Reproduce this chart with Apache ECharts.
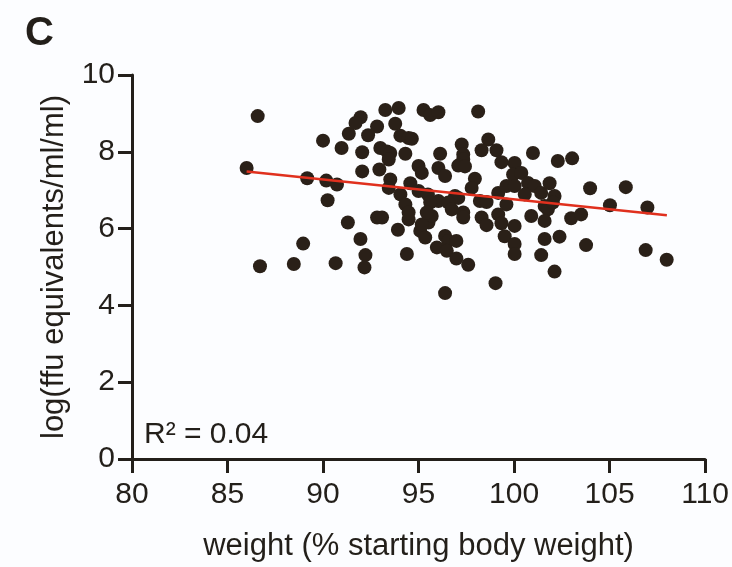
<!DOCTYPE html>
<html>
<head>
<meta charset="utf-8">
<script src="https://cdn.jsdelivr.net/npm/echarts@6/dist/echarts.min.js"></script>
<style>
  html, body { margin: 0; padding: 0; background: #fcfdff; }
  #chart { width: 732px; height: 567px; }
</style>
</head>
<body>
<div id="chart"></div>
<script>
var weight = [
  86.58, 86.0, 89.17, 90.0, 90.97, 90.17, 90.73, 90.24, 91.3, 91.35, 88.96, 86.7, 88.47, 90.66,
  93.26, 93.96, 95.26, 95.61, 96.04, 98.12, 91.97, 91.70, 92.83, 93.78, 92.36, 94.05, 94.48, 94.65,
  92.05, 93.00, 93.35, 93.52, 94.31, 93.44, 96.13, 97.26, 97.34, 97.34, 98.65, 98.30, 99.08, 100.99,
  99.34, 100.03, 102.29, 103.04, 92.05, 92.95, 95.00, 95.17, 96.04, 96.39, 97.08, 97.43, 99.95, 100.38,
  93.52, 93.44, 94.57, 95.00, 95.49, 94.05, 97.95, 97.78, 99.17, 99.60, 100.03, 100.73, 101.08, 101.42,
  101.86, 102.12, 100.56, 96.91, 97.08, 96.04, 95.61, 96.56, 98.21, 98.56, 101.60, 101.77, 94.31, 99.60,
  102.03,
  92.83, 93.09, 91.96, 92.22, 92.17, 94.39, 93.92, 94.48, 94.48, 95.09, 95.35, 95.52, 95.69, 95.17,
  95.43, 95.96, 96.39, 96.56, 96.98, 96.48, 96.98, 97.60, 96.39, 96.74, 97.34, 97.34, 98.30, 98.56,
  99.17, 99.34, 100.03, 99.51, 100.03, 100.03, 100.90, 101.60, 101.60, 102.38, 101.42, 102.12, 99.03, 102.99,
  103.98, 105.85, 105.02, 106.98, 103.51, 103.77, 106.89, 107.99
];
var logFfu = [
  8.93, 7.58, 7.31, 8.29, 8.10, 7.25, 7.15, 6.74, 6.16, 8.47, 5.61, 5.02, 5.08, 5.10,
  9.09, 9.14, 9.09, 8.96, 9.03, 9.05, 8.90, 8.75, 8.66, 8.73, 8.43, 8.42, 8.36, 8.34,
  7.99, 8.10, 8.01, 7.97, 7.95, 7.80, 7.95, 8.19, 7.93, 7.80, 8.32, 8.04, 8.04, 7.97,
  7.73, 7.71, 7.76, 7.83, 7.49, 7.54, 7.63, 7.45, 7.58, 7.37, 7.64, 7.62, 7.41, 7.45,
  7.28, 7.06, 7.18, 6.98, 6.89, 6.89, 7.30, 7.06, 6.93, 7.11, 7.11, 7.19, 7.11, 6.93,
  7.18, 6.85, 6.89, 6.85, 6.80, 6.72, 6.68, 6.68, 6.72, 6.69, 6.59, 6.50, 6.63, 6.63,
  6.68,
  6.29, 6.29, 5.73, 5.31, 4.99, 5.34, 5.97, 6.24, 6.42, 5.94, 5.77, 6.16, 6.33, 6.11,
  6.42, 5.51, 5.81, 5.68, 5.68, 5.42, 5.22, 5.06, 4.32, 6.50, 6.42, 6.29, 6.29, 6.09,
  6.37, 6.14, 6.07, 5.80, 5.60, 5.34, 6.33, 6.20, 5.73, 5.79, 5.31, 4.88, 4.58, 6.27,
  7.05, 7.08, 6.61, 6.55, 6.37, 5.57, 5.44, 5.19
];
// fitted regression line end points
var fitX = [86, 108];
var fitY = [7.49, 6.35];

var ink = '#231f1a';
var font = 'Liberation Sans, Arial, sans-serif';

var points = [];
for (var i = 0; i < weight.length; i++) {
  points.push([weight[i], logFfu[i]]);
}
var fit = [];
for (var j = 0; j < fitX.length; j++) {
  fit.push([fitX[j], fitY[j]]);
}

var chart = echarts.init(document.getElementById('chart'));
var option = {
  backgroundColor: '#fcfdff',
  animation: false,
  grid: { left: 132, right: 24, top: 75, bottom: 106 },
  xAxis: {
    type: 'value',
    min: 80,
    max: 110,
    interval: 5,
    name: 'weight (% starting body weight)',
    nameLocation: 'middle',
    nameGap: 72,
    nameTextStyle: { color: ink, fontSize: 31, fontFamily: font },
    axisLine: { onZero: false, lineStyle: { color: ink, width: 3 } },
    axisTick: { length: 14, lineStyle: { color: ink, width: 3 } },
    axisLabel: { color: ink, fontSize: 30, fontFamily: font, margin: 21 },
    splitLine: { show: false }
  },
  yAxis: {
    type: 'value',
    min: 0,
    max: 10,
    interval: 2,
    name: 'log(ffu equivalents/ml/ml)',
    nameLocation: 'middle',
    nameGap: 62,
    nameTextStyle: { color: ink, fontSize: 31, fontFamily: font },
    axisLine: { show: true, onZero: false, lineStyle: { color: ink, width: 3 } },
    axisTick: { show: true, length: 14, lineStyle: { color: ink, width: 3 } },
    axisLabel: { color: ink, fontSize: 30, fontFamily: font, margin: 17 },
    splitLine: { show: false }
  },
  graphic: [
    {
      type: 'text', left: 25, top: 14,
      style: { text: 'C', fill: ink, fontSize: 40, fontWeight: 'bold', fontFamily: font }
    },
    {
      type: 'text', left: 144, top: 420,
      style: { text: 'R² = 0.04', fill: ink, fontSize: 30, fontFamily: font }
    }
  ],
  series: [
    {
      type: 'scatter',
      data: points,
      symbolSize: 14,
      itemStyle: { color: '#2a2018', opacity: 1 },
      z: 2
    },
    {
      type: 'line',
      data: fit,
      showSymbol: false,
      lineStyle: { color: '#e0301e', width: 2.5 },
      z: 3
    }
  ]
};
chart.setOption(option);
</script>
</body>
</html>
